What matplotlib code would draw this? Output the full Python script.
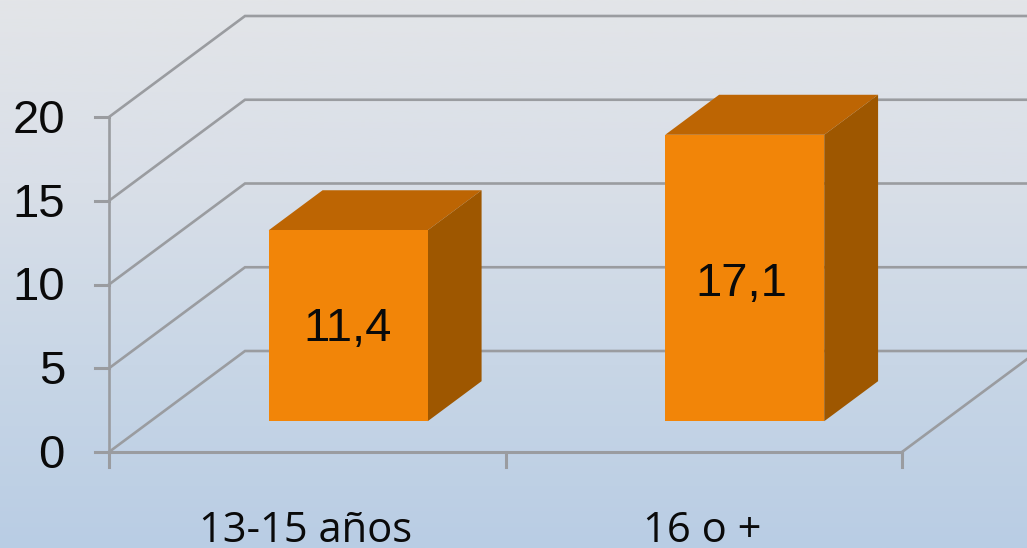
import numpy as np
import matplotlib
matplotlib.use('Agg')
import matplotlib.pyplot as plt
from matplotlib.colors import LinearSegmentedColormap
from matplotlib.patches import Polygon

categories = ['13-15 años', '16 o +']
values = [11.4, 17.1]
value_labels = ['11,4', '17,1']
y_ticks = [0, 5, 10, 15, 20]

# pixel scale of the picture
W, H = 1027, 548
px_x = 396.5
px_y = 16.75
x0, y0 = 109, 452

# depth of the 3d box, in data units
wall_dx = 136 / px_x
wall_dy = 101 / px_y
bar_front = 0.305
bar_depth = 0.396
bar_w = 159 / px_x

grid_col = '#9a9ca0'
front_col = '#f28508'
top_col = '#bd6503'
side_col = '#9e5700'

fig = plt.figure(figsize=(W / 100, H / 100), dpi=100)
ax = fig.add_axes([0, 0, 1, 1])
xlim = (-x0 / px_x, (W - x0) / px_x)
ylim = (-(H - y0) / px_y, y0 / px_y)

# background gradient
cmap = LinearSegmentedColormap.from_list('bg', ['#e3e5e8', '#d9dfe8', '#c8d6e6', '#b9cde4'])
grad = np.linspace(0, 1, 256).reshape(-1, 1)
ax.imshow(grad, cmap=cmap, extent=(*xlim, *ylim), aspect='auto', origin='upper', zorder=0)

n = len(categories)

# walls and floor
for t in y_ticks:
    ax.plot([0, wall_dx, n + wall_dx], [t, t + wall_dy, t + wall_dy],
            color=grid_col, lw=1.9, zorder=1, solid_joinstyle='miter')
    ax.plot([-14 / px_x, 0], [t, t], color=grid_col, lw=2.2, zorder=1)
ax.plot([0, 0], [0, 20], color=grid_col, lw=1.9, zorder=1)
ax.plot([0, n], [0, 0], color=grid_col, lw=2.2, zorder=2)
ax.plot([n, n + wall_dx], [0, wall_dy], color=grid_col, lw=1.9, zorder=1)
for i in range(n + 1):
    ax.plot([i, i], [0, -15 / px_y], color=grid_col, lw=2.2, zorder=1)

# bars
label_nudge = [(-1, -3), (-3, -6)]
for i, v in enumerate(values):
    left = i + 0.5 + bar_front * wall_dx - bar_w / 2 - 0.5 / px_x
    right = left + bar_w
    base = bar_front * wall_dy
    top = base + v
    ddx = bar_depth * wall_dx
    ddy = bar_depth * wall_dy
    ax.add_patch(Polygon([(left, top), (right, top), (right + ddx, top + ddy), (left + ddx, top + ddy)],
                         fc=top_col, ec='none', zorder=3))
    ax.add_patch(Polygon([(right, base), (right + ddx, base + ddy), (right + ddx, top + ddy), (right, top)],
                         fc=side_col, ec='none', zorder=3))
    ax.add_patch(Polygon([(left, base), (right, base), (right, top), (left, top)],
                         fc=front_col, ec='none', zorder=4))
    nx, ny = label_nudge[i]
    ax.text((left + right) / 2 + nx / px_x, base + v / 2 + ny / px_y, value_labels[i],
            ha='center', va='center', family='Liberation Sans', fontsize=34,
            color='#0a0a0a', zorder=5)
    ax.text(i + 0.5 - 1.5 / px_x, -79 / px_y, categories[i], ha='center', va='center',
            family='Open Sans', fontsize=30, color='#0a0a0a', zorder=5)

# y tick labels
for t in y_ticks:
    ax.text(-44 / px_x, t - 4 / px_y, str(t), ha='right', va='center',
            family='Liberation Sans', fontsize=34, color='#0a0a0a', zorder=5)

ax.set_xlim(xlim)
ax.set_ylim(ylim)
ax.axis('off')
fig.savefig('out.png', dpi=100)
